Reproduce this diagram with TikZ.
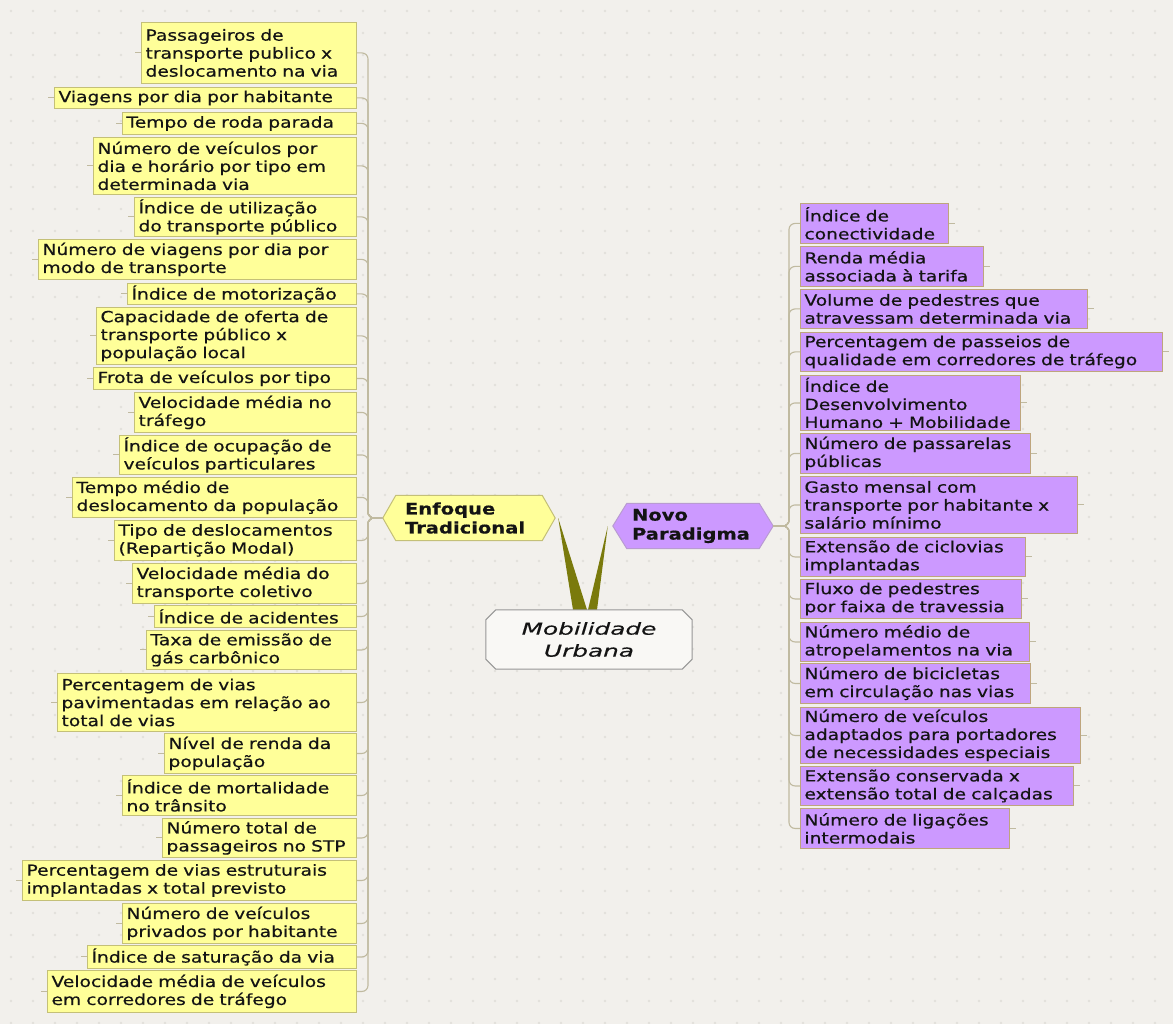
\documentclass[tikz,border=0pt]{standalone}
\usepackage{fontspec}
\setmainfont{DejaVu Sans}[FakeStretch=1.22,FakeBold=0.5]
\newfontfamily\ctrfont{DejaVu Sans}[FakeStretch=1.5,FakeBold=0.4]
\usetikzlibrary{calc}
\definecolor{bgcol}{RGB}{242,240,236}
\definecolor{dotcol}{RGB}{226,224,219}
\definecolor{yfill}{RGB}{255,255,153}
\definecolor{ybord}{RGB}{196,192,120}
\definecolor{pfill}{RGB}{204,153,255}
\definecolor{pbord}{RGB}{190,165,125}
\definecolor{conncol}{RGB}{192,186,160}
\definecolor{olivec}{RGB}{122,122,12}
\definecolor{ctrfill}{RGB}{249,248,245}
\definecolor{ctrbord}{RGB}{150,150,150}
\definecolor{txt}{RGB}{20,20,20}
\definecolor{hexpb}{RGB}{185,155,210}
\pgfdeclarelayer{back}
\pgfdeclarelayer{bg}
\pgfsetlayers{back,bg,main}
\newcommand\boxfont{\fontsize{15.3}{18}\selectfont}
\tikzset{
  ybox/.style={draw=ybord, fill=yfill, line width=0.9pt, inner xsep=4pt, inner ysep=0pt, align=left, font=\boxfont, text=txt},
  pbox/.style={draw=pbord, fill=pfill, line width=0.9pt, inner xsep=4pt, inner ysep=0pt, align=left, font=\boxfont, text=txt},
  conn/.style={draw=conncol, line width=1.1pt, rounded corners=6pt},
  stub/.style={draw=conncol, line width=1pt},
}
\newcommand\LBox[5]{%
  \pgfmathsetmacro\myBW{357-#2}\pgfmathsetmacro\myBH{#4-#3}\pgfmathsetmacro\myTW{357-#2-8}%
  \node[ybox, anchor=north east, minimum width=\myBW pt, minimum height=\myBH pt, text width=\myTW pt] (#1) at (357,#3) {#5};
  \draw[stub] (#1.west) -- ++(-6,0);}
\newcommand\RBox[5]{%
  \pgfmathsetmacro\myBW{#4-800}\pgfmathsetmacro\myBH{#3-#2}\pgfmathsetmacro\myTW{#4-800-8}%
  \node[pbox, anchor=north west, minimum width=\myBW pt, minimum height=\myBH pt, text width=\myTW pt] (#1) at (800,#2) {#5};
  \draw[stub] (#1.east) -- ++(6,0);}
\begin{document}
\begin{tikzpicture}[x=1pt,y=-1pt]
\useasboundingbox (0,0) rectangle (1173,1024);
\begin{pgfonlayer}{back}
  \fill[bgcol] (0,0) rectangle (1173,1024);
  \foreach \x in {11,33,...,1173} {\foreach \y in {11,33,...,1024} {\fill[dotcol] (\x,\y) circle (1.3pt);}}
\end{pgfonlayer}

% left boxes
\LBox{L1}{142}{22}{83}{Passageiros de\\transporte publico x\\deslocamento na via}
\LBox{L2}{55}{87}{108}{Viagens por dia por habitante}
\LBox{L3}{123}{112}{134}{Tempo de roda parada}
\LBox{L4}{94}{137}{194}{Número de veículos por\\dia e horário por tipo em\\determinada via}
\LBox{L5}{135}{197}{236}{Índice de utilização\\do transporte público}
\LBox{L6}{39}{239}{279}{Número de viagens por dia por\\modo de transporte}
\LBox{L7}{128}{283}{304}{Índice de motorização}
\LBox{L8}{97}{307}{364}{Capacidade de oferta de\\transporte público x\\população local}
\LBox{L9}{94}{367}{389}{Frota de veículos por tipo}
\LBox{L10}{135}{392}{432}{Velocidade média no\\tráfego}
\LBox{L11}{120}{435}{474}{Índice de ocupação de\\veículos particulares}
\LBox{L12}{73}{477}{517}{Tempo médio de\\deslocamento da população}
\LBox{L13}{115}{520}{560}{Tipo de deslocamentos\\(Repartição Modal)}
\LBox{L14}{133}{563}{603}{Velocidade média do\\transporte coletivo}
\LBox{L15}{155}{605}{627}{Índice de acidentes}
\LBox{L16}{147}{630}{669}{Taxa de emissão de\\gás carbônico}
\LBox{L17}{58}{673}{731}{Percentagem de vias\\pavimentadas em relação ao\\total de vias}
\LBox{L18}{165}{733}{773}{Nível de renda da\\população}
\LBox{L19}{123}{775}{815}{Índice de mortalidade\\no trânsito}
\LBox{L20}{163}{818}{857}{Número total de\\passageiros no STP}
\LBox{L21}{23}{860}{900}{Percentagem de vias estruturais\\implantadas x total previsto}
\LBox{L22}{123}{903}{943}{Número de veículos\\privados por habitante}
\LBox{L23}{88}{945}{968}{Índice de saturação da via}
\LBox{L24}{48}{970}{1012}{Velocidade média de veículos\\em corredores de tráfego}

% right boxes
\RBox{R1}{203}{243}{948}{Índice de\\conectividade}
\RBox{R2}{246}{286}{983}{Renda média\\associada à tarifa}
\RBox{R3}{289}{328}{1087}{Volume de pedestres que\\atravessam determinada via}
\RBox{R4}{332}{371}{1162}{Percentagem de passeios de\\qualidade em corredores de tráfego}
\RBox{R5}{375}{430}{1020}{Índice de\\Desenvolvimento\\Humano + Mobilidade}
\RBox{R6}{433}{473}{1030}{Número de passarelas\\públicas}
\RBox{R7}{476}{533}{1077}{Gasto mensal com\\transporte por habitante x\\salário mínimo}
\RBox{R8}{537}{576}{1025}{Extensão de ciclovias\\implantadas}
\RBox{R9}{579}{618}{1021}{Fluxo de pedestres\\por faixa de travessia}
\RBox{R10}{622}{661}{1029}{Número médio de\\atropelamentos na via}
\RBox{R11}{663}{703}{1030}{Número de bicicletas\\em circulação nas vias}
\RBox{R12}{707}{763}{1080}{Número de veículos\\adaptados para portadores\\de necessidades especiais}
\RBox{R13}{766}{805}{1073}{Extensão conservada x\\extensão total de calçadas}
\RBox{R14}{808}{848}{1009}{Número de ligações\\intermodais}

% main nodes
\node[minimum width=172pt, minimum height=45pt, inner xsep=22pt, inner ysep=0pt, text width=128pt, align=left, font=\fontsize{16}{19}\selectfont\bfseries, text=txt] (enf) at (469,518) {Enfoque\\Tradicional};
\node[minimum width=160pt, minimum height=45pt, inner xsep=19pt, inner ysep=0pt, text width=122pt, align=left, font=\fontsize{16}{19}\selectfont\bfseries, text=txt] (nov) at (693,526) {Novo\\Paradigma};
\node[minimum width=206pt, minimum height=59pt, inner sep=0pt, align=center, font=\ctrfont\itshape\fontsize{16.5}{22}\selectfont, text=txt] (ctr) at (589,639.5) {Mobilidade\\Urbana};

\coordinate (tl) at (368,518);
\coordinate (tr) at (789,526);

\begin{pgfonlayer}{bg}
  % wedges
  \fill[olivec] ($(ctr.north)+(-16,0)$) -- ($(enf.east)+(3,0)$) -- ($(ctr.north)+(-2,0)$) -- cycle;
  \fill[olivec] ($(ctr.north)+(-1,0)$) -- ($(nov.west)+(-5,0)$) -- ($(ctr.north)+(8,0)$) -- cycle;
  % hexagons
  \draw[fill=yfill, draw=ybord, line width=1pt] (enf.west) -- ($(enf.north west)+(13,0)$) -- ($(enf.north east)+(-13,0)$) -- (enf.east) -- ($(enf.south east)+(-13,0)$) -- ($(enf.south west)+(13,0)$) -- cycle;
  \draw[fill=pfill, draw=hexpb, line width=1pt] (nov.west) -- ($(nov.north west)+(14,0)$) -- ($(nov.north east)+(-14,0)$) -- (nov.east) -- ($(nov.south east)+(-14,0)$) -- ($(nov.south west)+(14,0)$) -- cycle;
  % central octagon
  \draw[fill=ctrfill, draw=ctrbord, line width=1pt] ($(ctr.north west)+(10,0)$) -- ($(ctr.north east)+(-10,0)$) -- ($(ctr.north east)+(0,10)$) -- ($(ctr.south east)+(0,-10)$) -- ($(ctr.south east)+(-10,0)$) -- ($(ctr.south west)+(10,0)$) -- ($(ctr.south west)+(0,-10)$) -- ($(ctr.north west)+(0,10)$) -- cycle;
  % connectors
  \foreach \n in {1,...,24} {\draw[conn] (enf.west) -- (tl) |- (L\n.east);}
  \foreach \n in {1,...,14} {\draw[conn] (nov.east) -- (tr) |- (R\n.west);}
\end{pgfonlayer}
\end{tikzpicture}
\end{document}
